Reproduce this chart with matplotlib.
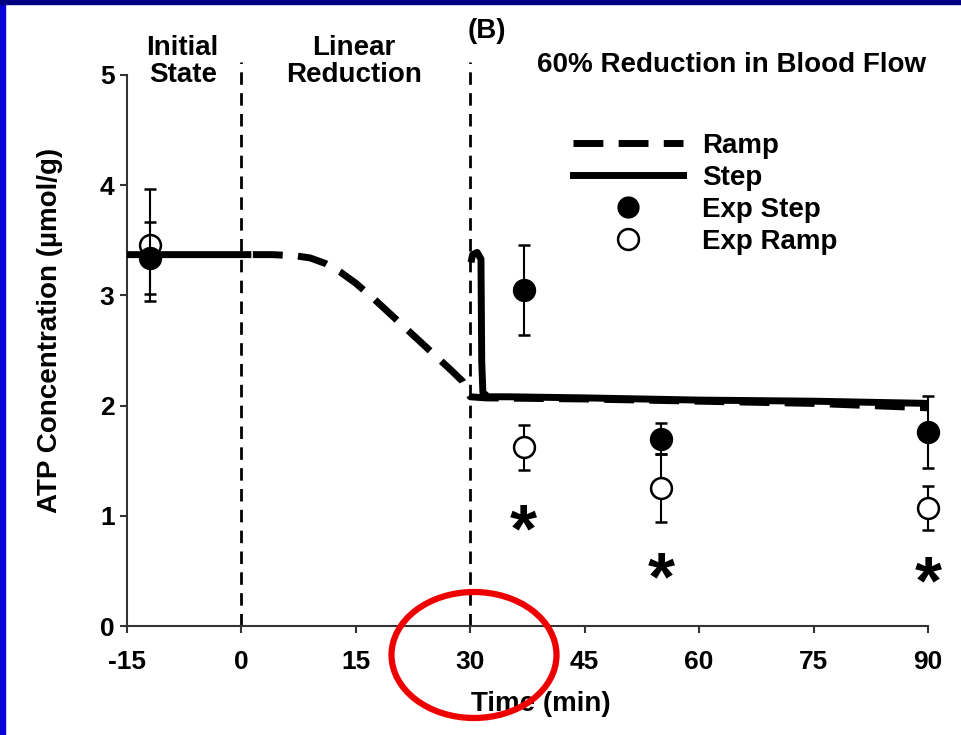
import matplotlib
matplotlib.use("Agg")
import matplotlib.pyplot as plt
from matplotlib.lines import Line2D
from matplotlib.patches import Ellipse, Rectangle
import numpy as np

plt.rcParams['font.family'] = ['Liberation Sans', 'DejaVu Sans']
plt.rcParams['font.weight'] = 'bold'
plt.rcParams['axes.unicode_minus'] = False

# model curves (time in min, ATP in umol/g)
step_t = [-15, 1.3, np.nan, 30.1, 30.3, 30.9, 31.4, 31.5, 31.65, 32.3, 35, 45, 60, 75, 90]
step_y = [3.37, 3.37, np.nan, 3.30, 3.37, 3.39, 3.33, 2.40, 2.12, 2.08, 2.08, 2.07, 2.05, 2.04, 2.02]

ramp_t = [1.5, 4, 7, 9, 11, 13, 15, 17.5, 20, 22.5, 25, 27.5, 29, 30, 32, 45, 60, 75, 90]
ramp_y = [3.37, 3.37, 3.36, 3.34, 3.29, 3.21, 3.11, 2.96, 2.80, 2.64, 2.48, 2.32, 2.22, 2.08, 2.07, 2.06, 2.04, 2.02, 1.98]

# experimental data
exp_t = [-12, 37, 55, 90]
exp_step = [3.34, 3.05, 1.70, 1.76]
exp_step_err = [0.33, 0.41, 0.14, 0.33]
exp_ramp = [3.46, 1.62, 1.25, 1.07]
exp_ramp_err = [0.51, 0.20, 0.31, 0.20]

# significance marks
star_t = [37, 55, 90]
star_y = [0.95, 0.52, 0.48]

phase_bounds = [0, 30]
xticks = [-15, 0, 15, 30, 45, 60, 75, 90]
yticks = [0, 1, 2, 3, 4, 5]

fig = plt.figure(figsize=(9.61, 7.35), dpi=100)
ax = fig.add_axes([127/961, 1-626/735, 801/961, 551/735])

for b in phase_bounds:
    ax.plot([b, b], [0, 5.12], color='black', lw=2, dashes=(4.5, 3), clip_on=False, zorder=2)

ax.plot(ramp_t, ramp_y, color='black', lw=5, dashes=(4.3, 2.2), zorder=3)
ax.plot(step_t, step_y, color='black', lw=5, solid_capstyle='butt', zorder=4)

for vals, errs, face, z in [(exp_ramp, exp_ramp_err, 'white', 5), (exp_step, exp_step_err, 'black', 6)]:
    eb = ax.errorbar(exp_t, vals, yerr=errs, fmt='o', ms=15, mfc=face, mec='black', mew=1.8,
                     ecolor='black', elinewidth=1.5, capsize=4.3, capthick=1.5, zorder=z)
    parts = [eb.lines[0]] + list(eb.lines[1]) + list(eb.lines[2])
    for artist in parts:
        artist.set_clip_on(False)

fs_star = 50
for t, y in zip(star_t, star_y):
    ax.annotate('*', xy=(t, y), xytext=(0, -0.44*fs_star), textcoords='offset points',
                ha='center', va='baseline', fontsize=fs_star, fontweight='bold')

ax.set_xlim(-15, 90)
ax.set_ylim(0, 5)
ax.set_xticks(xticks)
ax.set_yticks(yticks)
for s in ['top', 'right']:
    ax.spines[s].set_visible(False)
for s in ['left', 'bottom']:
    ax.spines[s].set_linewidth(1.5)
    ax.spines[s].set_color('#333333')
ax.tick_params(axis='x', length=5, width=1.5, pad=12, labelsize=19, color='#333333')
ax.tick_params(axis='y', length=5, width=1.5, pad=4, labelsize=19, color='#333333')

ax.set_xlabel('Time (min)', fontsize=20, fontweight='bold')
ax.xaxis.set_label_coords(0.516, -0.118)
ax.set_ylabel('ATP Concentration (\u00b5mol/g)', fontsize=20, fontweight='bold')
ax.yaxis.set_label_coords(-0.080, 0.537)

# phase headings
txt = dict(fontsize=20, fontweight='bold', clip_on=False, va='baseline')
ax.text(-7.7, 5.18, 'Initial', ha='center', **txt)
ax.text(-7.7, 4.94, 'State', ha='center', **txt)
ax.text(14.7, 5.18, 'Linear', ha='center', **txt)
ax.text(14.7, 4.94, 'Reduction', ha='center', **txt)
ax.text(29.7, 5.34, '(B)', ha='left', **txt)
ax.text(64.2, 5.03, '60% Reduction in Blood Flow', ha='center', **txt)

handles = [
    Line2D([], [], color='black', lw=5, dashes=(4.3, 2.2)),
    Line2D([], [], color='black', lw=5),
    Line2D([], [], ls='none', marker='o', ms=15, mfc='black', mec='black'),
    Line2D([], [], ls='none', marker='o', ms=15, mfc='white', mec='black', mew=1.8),
]
labels = ['Ramp', 'Step', 'Exp Step', 'Exp Ramp']
ax.legend(handles, labels, loc='upper left', bbox_to_anchor=(0.557, 0.895), frameon=False,
          borderpad=0, borderaxespad=0, handlelength=3.96, handletextpad=0.68,
          labelspacing=0.22, prop={'size': 20, 'weight': 'bold'})

# red circle highlight and slide border
fig.patches.append(Ellipse((474/961, 1-655/735), 165/961, 126/735, transform=fig.transFigure,
                           fill=False, edgecolor='#ee0000', lw=4.5, zorder=10))
fig.patches.append(Rectangle((0, 0), 5/961, 1, transform=fig.transFigure,
                             color='#0800d8', zorder=10))
fig.patches.append(Rectangle((0, 1-4/735), 1, 4/735, transform=fig.transFigure,
                             color='#000080', zorder=10))

fig.savefig('out.png', dpi=100)
